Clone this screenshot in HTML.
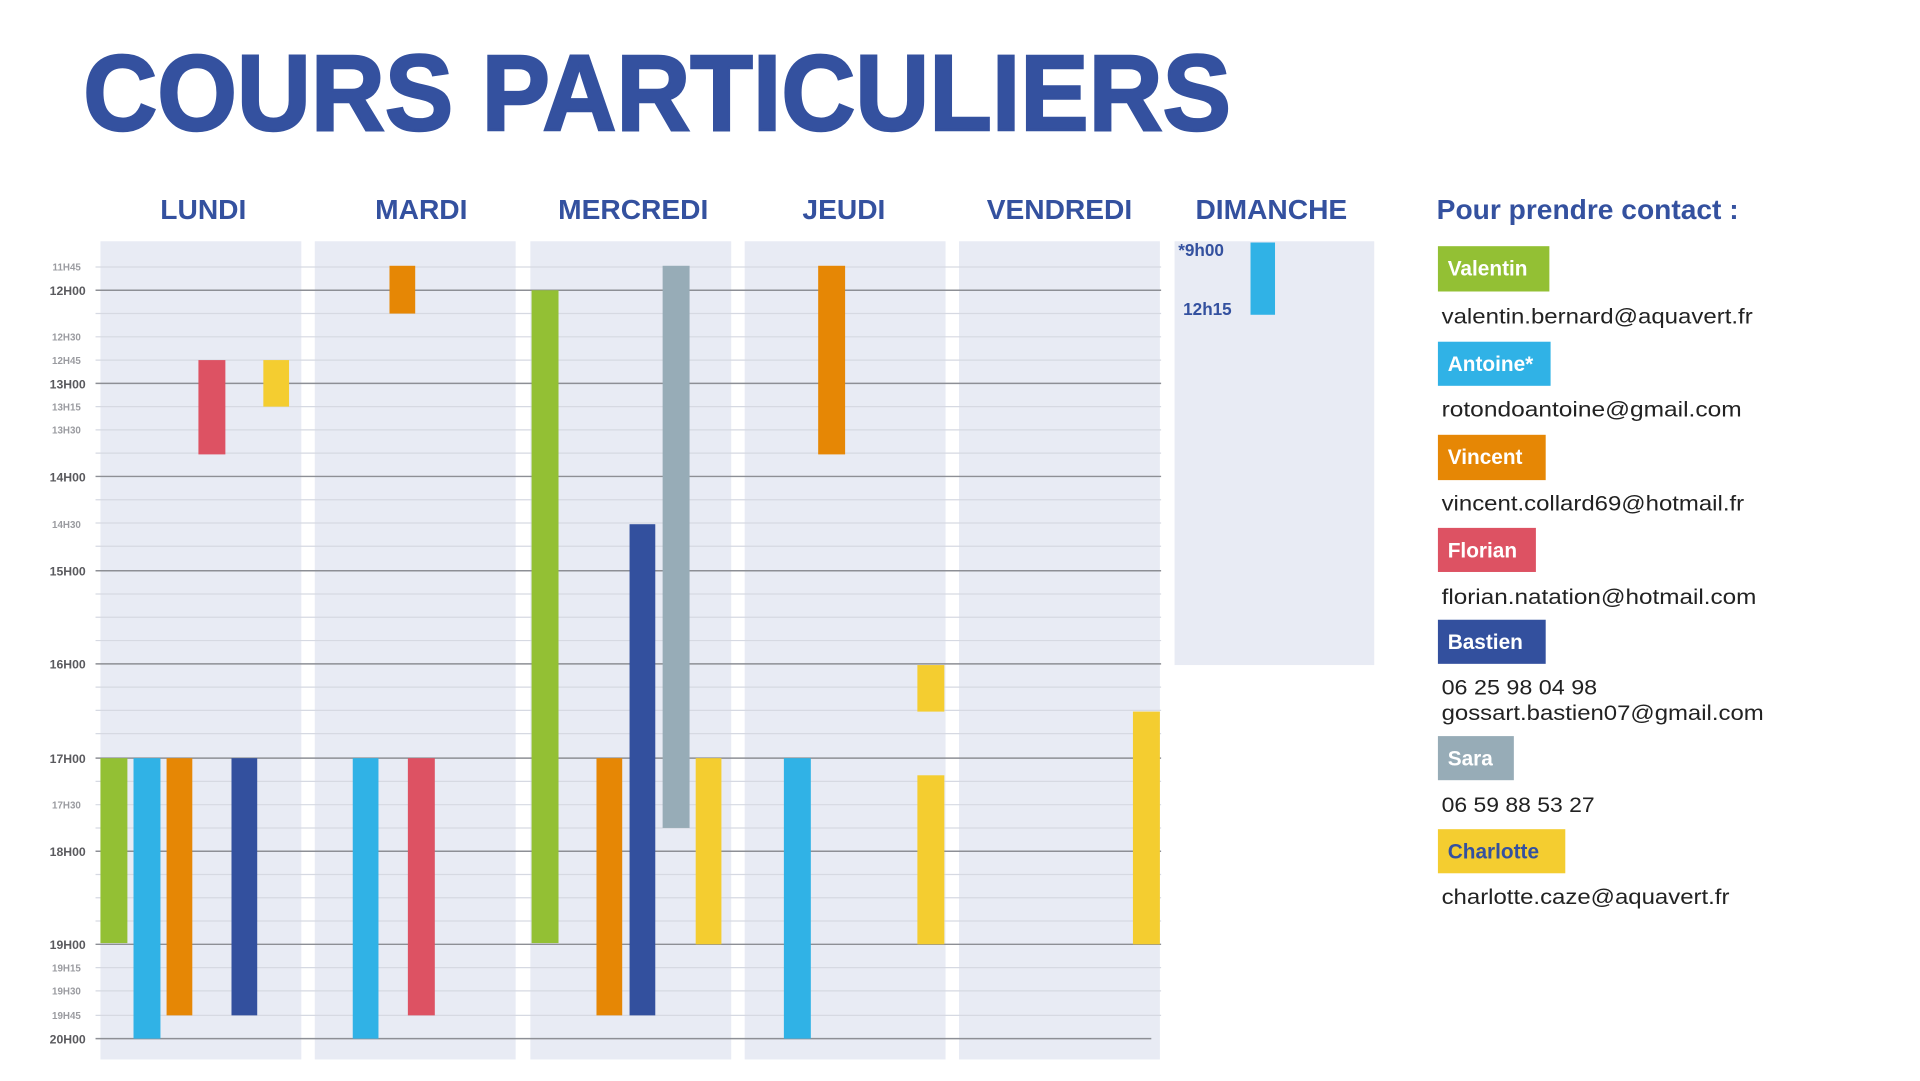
<!DOCTYPE html>
<html><head><meta charset="utf-8"><style>
html,body{margin:0;padding:0;background:#fff;overflow:hidden}
svg{display:block}
</style></head><body>
<svg width="1920" height="1081" viewBox="0 0 1567.6 882.6" xmlns="http://www.w3.org/2000/svg" font-family="Liberation Sans, sans-serif">
<rect width="1568" height="883" fill="#fff"/>
<text x="68" y="106" font-size="88" font-weight="bold" fill="#34519f" stroke="#34519f" stroke-width="2" textLength="937" lengthAdjust="spacingAndGlyphs">COURS PARTICULIERS</text>
<g font-size="23" font-weight="bold" fill="#34519f" text-anchor="middle">
<text x="166" y="179">LUNDI</text><text x="344" y="179">MARDI</text><text x="517" y="179">MERCREDI</text>
<text x="689" y="179">JEUDI</text><text x="865" y="179">VENDREDI</text><text x="1038" y="179">DIMANCHE</text>
</g>
<text x="1173" y="179" font-size="23" font-weight="bold" fill="#34519f">Pour prendre contact :</text>
<g fill="#e8ebf4">
<rect x="82" y="197" width="164" height="668"/><rect x="257" y="197" width="164" height="668"/>
<rect x="433" y="197" width="164" height="668"/><rect x="608" y="197" width="164" height="668"/>
<rect x="783" y="197" width="164" height="668"/><rect x="959" y="197" width="163" height="346"/>
</g>
<g stroke="#d6d9e2" stroke-width="1">
<line x1="78" x2="948" y1="218" y2="218"/><line x1="78" x2="948" y1="256" y2="256"/><line x1="78" x2="948" y1="275" y2="275"/><line x1="78" x2="948" y1="294" y2="294"/>
<line x1="78" x2="948" y1="332" y2="332"/><line x1="78" x2="948" y1="351" y2="351"/><line x1="78" x2="948" y1="370" y2="370"/>
<line x1="78" x2="948" y1="408" y2="408"/><line x1="78" x2="948" y1="427" y2="427"/><line x1="78" x2="948" y1="446" y2="446"/>
<line x1="78" x2="948" y1="485" y2="485"/><line x1="78" x2="948" y1="504" y2="504"/><line x1="78" x2="948" y1="523" y2="523"/>
<line x1="78" x2="948" y1="561" y2="561"/><line x1="78" x2="948" y1="580" y2="580"/><line x1="78" x2="948" y1="599" y2="599"/>
<line x1="78" x2="948" y1="638" y2="638"/><line x1="78" x2="948" y1="657" y2="657"/><line x1="78" x2="948" y1="676" y2="676"/>
<line x1="78" x2="948" y1="714" y2="714"/><line x1="78" x2="948" y1="733" y2="733"/><line x1="78" x2="948" y1="752" y2="752"/>
<line x1="78" x2="948" y1="790" y2="790"/><line x1="78" x2="948" y1="809" y2="809"/><line x1="78" x2="948" y1="829" y2="829"/>
</g>
<g stroke="#8d8f95" stroke-width="1.2">
<line x1="78" x2="948" y1="237" y2="237"/><line x1="78" x2="948" y1="313" y2="313"/><line x1="78" x2="948" y1="389" y2="389"/>
<line x1="78" x2="948" y1="466" y2="466"/><line x1="78" x2="948" y1="542" y2="542"/><line x1="78" x2="948" y1="619" y2="619"/>
<line x1="78" x2="948" y1="695" y2="695"/><line x1="78" x2="948" y1="771" y2="771"/><line x1="78" x2="940" y1="848" y2="848"/>
</g>
<g font-size="10" font-weight="bold" fill="#5a5a5e" text-anchor="end">
<text x="70" y="241">12H00</text><text x="70" y="317">13H00</text><text x="70" y="393">14H00</text><text x="70" y="470">15H00</text>
<text x="70" y="546">16H00</text><text x="70" y="623">17H00</text><text x="70" y="699">18H00</text><text x="70" y="775">19H00</text><text x="70" y="852">20H00</text>
</g>
<g font-size="8" font-weight="bold" fill="#9a9ba0" text-anchor="end">
<text x="66" y="221">11H45</text><text x="66" y="278">12H30</text><text x="66" y="297">12H45</text><text x="66" y="335">13H15</text>
<text x="66" y="354">13H30</text><text x="66" y="431">14H30</text><text x="66" y="660">17H30</text><text x="66" y="793">19H15</text>
<text x="66" y="812">19H30</text><text x="66" y="832">19H45</text>
</g>
<rect x="162" y="294" width="22" height="77" fill="#dd5263"/>
<rect x="215" y="294" width="21" height="38" fill="#f4cd30"/>
<rect x="82" y="619" width="22" height="151" fill="#93c034"/>
<rect x="109" y="619" width="22" height="229" fill="#30b2e6"/>
<rect x="136" y="619" width="21" height="210" fill="#e68705"/>
<rect x="189" y="619" width="21" height="210" fill="#33509e"/>
<rect x="318" y="217" width="21" height="39" fill="#e68705"/>
<rect x="288" y="619" width="21" height="229" fill="#30b2e6"/>
<rect x="333" y="619" width="22" height="210" fill="#dd5263"/>
<rect x="434" y="237" width="22" height="533" fill="#93c034"/>
<rect x="514" y="428" width="21" height="401" fill="#33509e"/>
<rect x="541" y="217" width="22" height="459" fill="#97acb7"/>
<rect x="487" y="619" width="21" height="210" fill="#e68705"/>
<rect x="568" y="619" width="21" height="152" fill="#f4cd30"/>
<rect x="668" y="217" width="22" height="154" fill="#e68705"/>
<rect x="749" y="543" width="22" height="38" fill="#f4cd30"/>
<rect x="749" y="633" width="22" height="138" fill="#f4cd30"/>
<rect x="640" y="619" width="22" height="229" fill="#30b2e6"/>
<rect x="925" y="581" width="22" height="190" fill="#f4cd30"/>
<rect x="1021" y="198" width="20" height="59" fill="#30b2e6"/>
<g font-size="14" font-weight="bold" fill="#34519f">
<text x="962" y="209">*9h00</text><text x="966" y="257">12h15</text>
</g>
<rect x="1174" y="201" width="91" height="37" fill="#93c034"/>
<rect x="1174" y="279" width="92" height="36" fill="#30b2e6"/>
<rect x="1174" y="355" width="88" height="37" fill="#e68705"/>
<rect x="1174" y="431" width="80" height="36" fill="#dd5263"/>
<rect x="1174" y="506" width="88" height="36" fill="#33509e"/>
<rect x="1174" y="601" width="62" height="36" fill="#97acb7"/>
<rect x="1174" y="677" width="104" height="36" fill="#f4cd30"/>
<g font-size="17" font-weight="bold" fill="#fff">
<text x="1182" y="225">Valentin</text><text x="1182" y="303">Antoine*</text><text x="1182" y="379">Vincent</text>
<text x="1182" y="455">Florian</text><text x="1182" y="530">Bastien</text><text x="1182" y="625">Sara</text>
<text x="1182" y="701" fill="#34519f">Charlotte</text>
</g>
<g font-size="17" fill="#222">
<text x="1177" y="264" textLength="254" lengthAdjust="spacingAndGlyphs">valentin.bernard@aquavert.fr</text>
<text x="1177" y="340" textLength="245" lengthAdjust="spacingAndGlyphs">rotondoantoine@gmail.com</text>
<text x="1177" y="417" textLength="247" lengthAdjust="spacingAndGlyphs">vincent.collard69@hotmail.fr</text>
<text x="1177" y="493" textLength="257" lengthAdjust="spacingAndGlyphs">florian.natation@hotmail.com</text>
<text x="1177" y="567" textLength="127" lengthAdjust="spacingAndGlyphs">06 25 98 04 98</text>
<text x="1177" y="588" textLength="263" lengthAdjust="spacingAndGlyphs">gossart.bastien07@gmail.com</text>
<text x="1177" y="663" textLength="125" lengthAdjust="spacingAndGlyphs">06 59 88 53 27</text>
<text x="1177" y="738" textLength="235" lengthAdjust="spacingAndGlyphs">charlotte.caze@aquavert.fr</text>
</g>
</svg>
</body></html>
